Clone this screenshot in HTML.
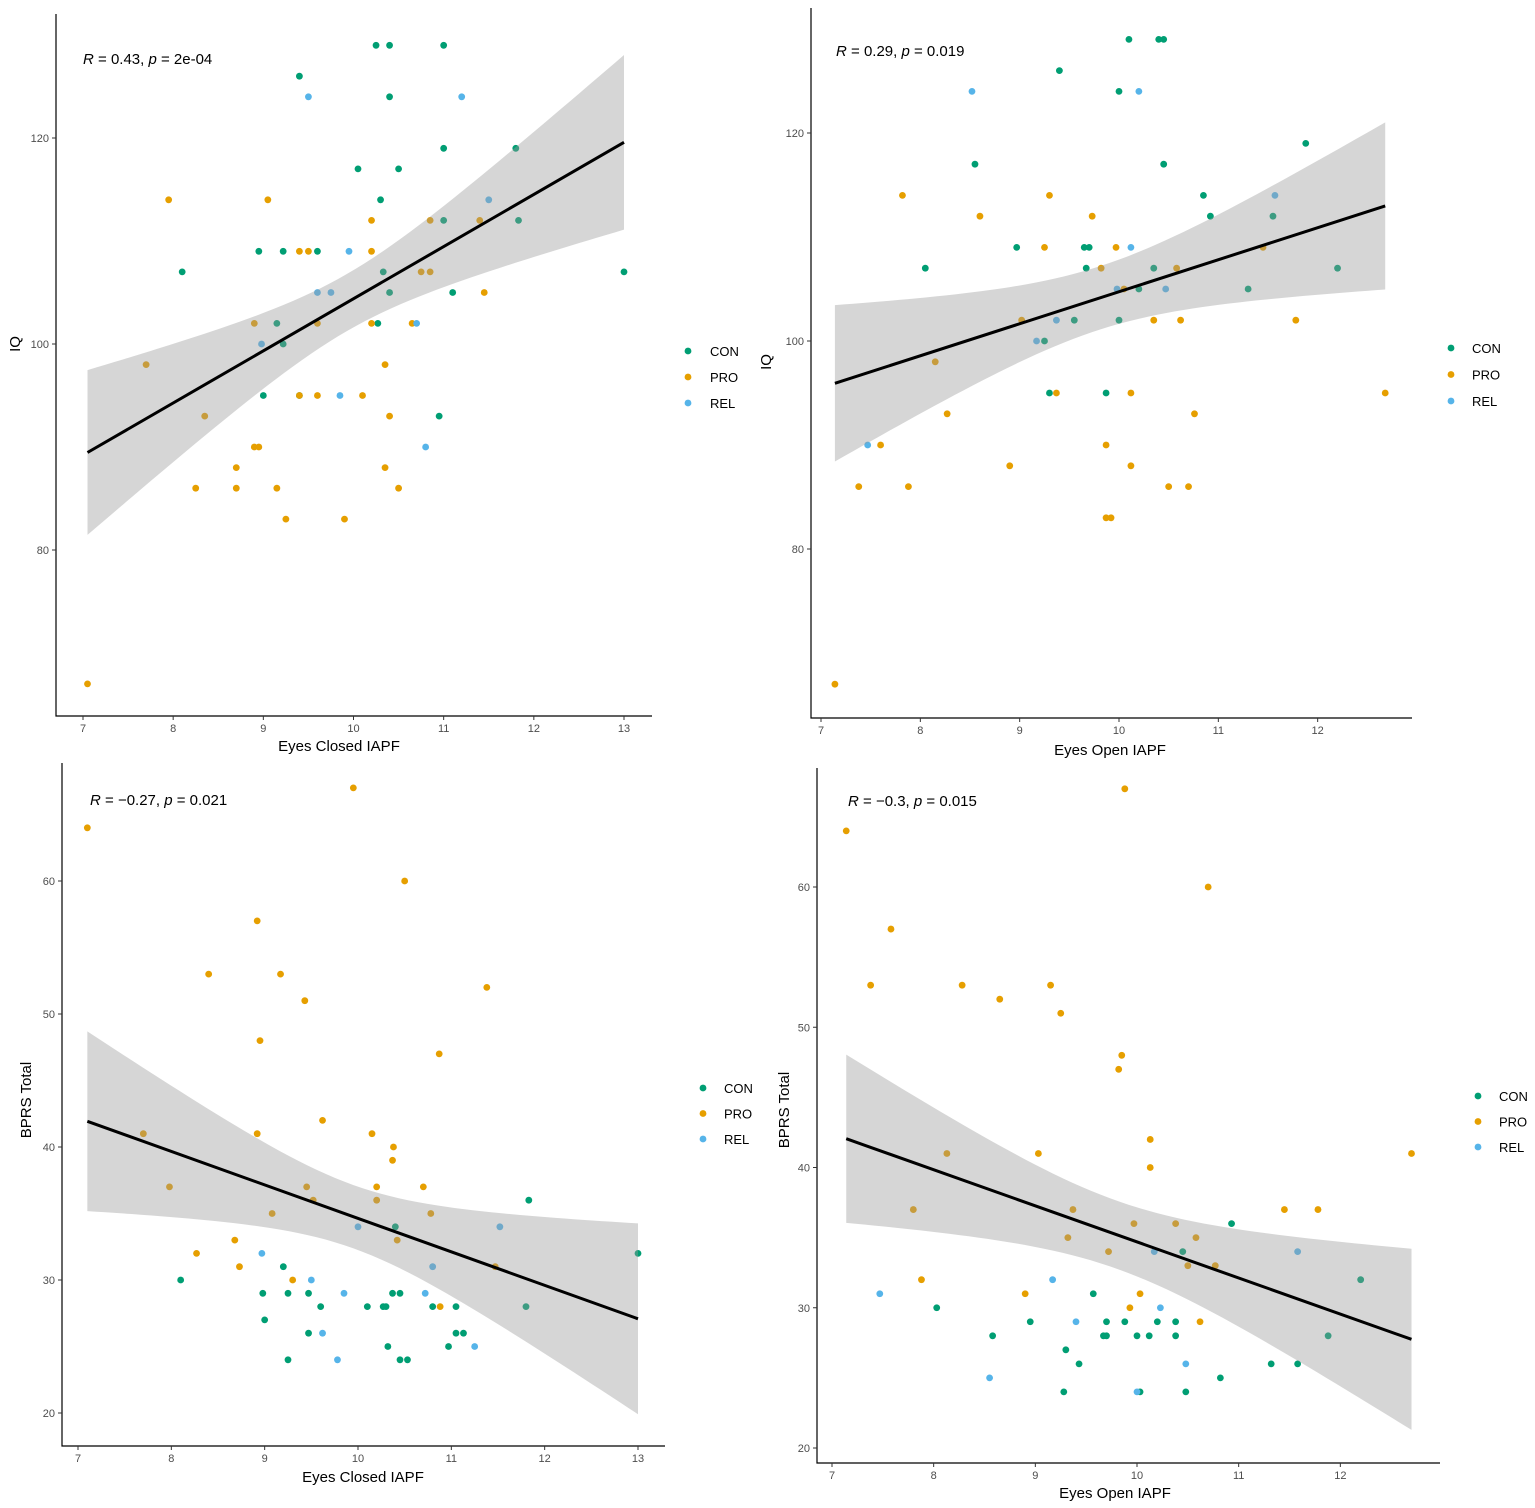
<!DOCTYPE html>
<html><head><meta charset="utf-8"><style>
body{margin:0;background:#fff;width:1535px;height:1508px;overflow:hidden}
svg{display:block}
text{font-family:"Liberation Sans",sans-serif}
</style></head><body>
<svg id="chart" width="1535" height="1508" xmlns="http://www.w3.org/2000/svg"></svg>
<script>
const groups=["CON","PRO","REL"];
const groupColors=["#009E73","#E69F00","#56B4E9"];
// Panel A: Eyes closed IAPF vs IQ
const p1CON=[[10.25,129],[10.4,129],[11,129],[9.4,126],[10.4,124],[11,119],[11.8,119],[10.05,117],[10.5,117],[10.3,114],[11.83,112],[11.0,112],[8.1,107],[8.95,109],[9.22,109],[9.6,109],[10.33,107],[10.4,105],[11.1,105],[9.15,102],[10.27,102],[9.22,100],[9.0,95],[9.4,95],[10.95,93],[13.0,107]];
const p1PRO=[[7.95,114],[9.05,114],[10.2,112],[11.4,112],[10.85,112],[9.4,109],[9.5,109],[10.2,109],[10.75,107],[10.85,107],[11.45,105],[8.9,102],[9.6,102],[10.2,102],[10.65,102],[7.7,98],[10.35,98],[8.35,93],[10.4,93],[9.4,95],[9.6,95],[10.1,95],[8.9,90],[8.95,90],[8.7,88],[10.35,88],[8.25,86],[8.7,86],[9.15,86],[10.5,86],[9.25,83],[9.9,83],[7.05,67]];
const p1REL=[[9.5,124],[11.2,124],[11.5,114],[9.95,109],[9.6,105],[9.75,105],[10.7,102],[8.98,100],[9.85,95],[10.8,90]];
// Panel B: Eyes open IAPF vs IQ
const p2CON=[[10.1,129],[10.4,129],[10.45,129],[9.4,126],[10,124],[8.55,117],[10.45,117],[11.88,119],[10.85,114],[10.92,112],[11.55,112],[8.05,107],[8.97,109],[9.65,109],[9.7,109],[9.67,107],[10.35,107],[10.2,105],[11.3,105],[12.2,107],[9.55,102],[10,102],[9.25,100],[9.3,95],[9.87,95]];
const p2PRO=[[7.82,114],[9.3,114],[8.6,112],[9.73,112],[9.25,109],[9.97,109],[11.45,109],[9.82,107],[10.58,107],[10.05,105],[9.02,102],[10.35,102],[10.62,102],[11.78,102],[8.15,98],[9.37,95],[10.12,95],[12.68,95],[8.27,93],[10.76,93],[7.6,90],[9.87,90],[8.9,88],[10.12,88],[7.38,86],[7.88,86],[10.5,86],[10.7,86],[9.87,83],[9.92,83],[7.14,67]];
const p2REL=[[8.52,124],[10.2,124],[11.57,114],[10.12,109],[9.98,105],[10.47,105],[9.37,102],[9.17,100],[7.47,90]];
// Panel C: Eyes closed IAPF vs BPRS
const p3CON=[[11.83,36],[13.0,32],[10.4,34],[8.1,30],[9.2,31],[8.98,29],[9.25,29],[9.47,29],[9.6,28],[10.1,28],[10.27,28],[10.37,29],[10.45,29],[10.8,28],[11.05,28],[9.0,27],[9.47,26],[11.05,26],[11.13,26],[10.32,25],[10.97,25],[9.25,24],[10.45,24],[10.53,24],[11.8,28],[10.3,28]];
const p3PRO=[[7.1,64],[9.95,67],[10.5,60],[8.92,57],[8.4,53],[9.17,53],[9.43,51],[11.38,52],[8.95,48],[10.87,47],[9.62,42],[8.92,41],[10.15,41],[7.7,41],[10.38,40],[10.37,39],[7.98,37],[9.45,37],[10.2,37],[10.7,37],[9.52,36],[10.2,36],[9.08,35],[10.78,35],[10.42,33],[11.47,31],[8.68,33],[8.27,32],[8.73,31],[9.3,30],[10.88,28]];
const p3REL=[[10.0,34],[11.52,34],[10.8,31],[8.97,32],[9.5,30],[9.85,29],[10.72,29],[9.62,26],[11.25,25],[9.78,24]];
// Panel D: Eyes open IAPF vs BPRS
const p4CON=[[10.93,36],[10.45,34],[12.2,32],[8.03,30],[9.57,31],[8.58,28],[8.95,29],[9.67,28],[9.7,28],[9.7,29],[9.88,29],[10,28],[10.12,28],[10.2,29],[10.38,29],[10.38,28],[9.3,27],[9.43,26],[11.32,26],[11.58,26],[10.82,25],[9.28,24],[10.03,24],[10.48,24],[11.88,28]];
const p4PRO=[[7.14,64],[9.88,67],[10.7,60],[7.58,57],[7.38,53],[8.28,53],[9.15,53],[8.65,52],[9.25,51],[9.85,48],[9.82,47],[10.13,42],[8.13,41],[9.03,41],[12.7,41],[10.13,40],[7.8,37],[9.37,37],[11.45,37],[11.78,37],[9.97,36],[10.38,36],[9.32,35],[10.58,35],[9.72,34],[10.5,33],[10.77,33],[7.88,32],[8.9,31],[10.03,31],[9.93,30],[10.62,29]];
const p4REL=[[11.58,34],[10.17,34],[7.47,31],[9.17,32],[10.23,30],[9.4,29],[8.55,25],[10.48,26],[10.0,24]];
const xTicksClosed=[7,8,9,10,11,12,13];
const xTicksOpen=[7,8,9,10,11,12];
const yTicksIQ=[80,100,120];
const yTicksBPRS=[20,30,40,50,60];
const statLabels=[["0.43","2e-04"],["0.29","0.019"],["\u22120.27","0.021"],["\u22120.3","0.015"]];

const NS="http://www.w3.org/2000/svg";
const svg=document.getElementById('chart');
function mk(tag,attrs,parent){const e=document.createElementNS(NS,tag);for(const k in attrs)e.setAttribute(k,attrs[k]);(parent||svg).appendChild(e);return e;}

const panels=[
 {id:"a",data:[p1CON,p1PRO,p1REL],xt:xTicksClosed,yt:yTicksIQ,x0:7,x1:10,px0:83,px1:353.5,y0:100,y1:120,py0:344,py1:138,axL:56,axB:716,axT:14,axR:652,xl:"Eyes Closed IAPF",xlx:339,xly:751,yl:"IQ",ylx:20,yly:344,ann:[83,64],leg:[688,710,351,26],st:0},
 {id:"b",data:[p2CON,p2PRO,p2REL],xt:xTicksOpen,yt:yTicksIQ,x0:7,x1:10,px0:821,px1:1119,y0:100,y1:120,py0:341,py1:133,axL:811,axB:718,axT:8,axR:1412,xl:"Eyes Open IAPF",xlx:1110,xly:755,yl:"IQ",ylx:771,yly:362,ann:[836,56],leg:[1451,1472,348,26.5],st:1},
 {id:"c",data:[p3CON,p3PRO,p3REL],xt:xTicksClosed,yt:yTicksBPRS,x0:7,x1:10,px0:78,px1:358,y0:20,y1:60,py0:1413,py1:881,axL:62,axB:1446,axT:763,axR:665,xl:"Eyes Closed IAPF",xlx:363,xly:1482,yl:"BPRS Total",ylx:31,yly:1100,ann:[90,805],leg:[703,724,1088,25.5],st:2},
 {id:"d",data:[p4CON,p4PRO,p4REL],xt:xTicksOpen,yt:yTicksBPRS,x0:7,x1:10,px0:832,px1:1137,y0:20,y1:60,py0:1448,py1:887,axL:817,axB:1463,axT:768,axR:1440,xl:"Eyes Open IAPF",xlx:1115,xly:1498,yl:"BPRS Total",ylx:789,yly:1110,ann:[848,806],leg:[1478,1499,1096,25.5],st:3}
];

panels.forEach(p=>{
 const g=mk('g',{});
 
 
 const sx=v=>p.px0+(v-p.x0)*(p.px1-p.px0)/(p.x1-p.x0);
 const sy=v=>p.py0+(v-p.y0)*(p.py1-p.py0)/(p.y1-p.y0);
 p.data.forEach((arr,gi)=>{
  const pg=mk('g',{},g);
  
  
  arr.forEach(d=>{
   const c=mk('circle',{cx:sx(d[0]),cy:sy(d[1]),r:3.4,fill:groupColors[gi]},pg);
   
   
  });
 });
 const all=[].concat(...p.data);const n=all.length;
 const mx=all.reduce((s,d)=>s+d[0],0)/n,my=all.reduce((s,d)=>s+d[1],0)/n;
 let sxx=0,sxy=0;all.forEach(d=>{sxx+=(d[0]-mx)**2;sxy+=(d[0]-mx)*(d[1]-my);});
 const b=sxy/sxx,a=my-b*mx;
 let sse=0;all.forEach(d=>{sse+=(d[1]-a-b*d[0])**2;});
 const s=Math.sqrt(sse/(n-2)),t=1.995;
 const xmin=Math.min(...all.map(d=>d[0])),xmax=Math.max(...all.map(d=>d[0]));
 const up=[],lo=[];
 for(let i=0;i<=60;i++){const x=xmin+(xmax-xmin)*i/60;const f=a+b*x;const h=t*s*Math.sqrt(1/n+(x-mx)**2/sxx);up.push(sx(x)+','+sy(f+h));lo.push(sx(x)+','+sy(f-h));}
 const band=mk('polygon',{points:up.concat(lo.reverse()).join(' '),fill:'#999999','fill-opacity':0.4},g);
 
 
 const ln=mk('line',{x1:sx(xmin),y1:sy(a+b*xmin),x2:sx(xmax),y2:sy(a+b*xmax),stroke:'#000','stroke-width':3},g);
 
 
 const ax=mk('path',{d:`M${p.axL},${p.axT}V${p.axB}H${p.axR}`,stroke:'#000','stroke-width':1.2,fill:'none'},g);
 
 
 p.xt.forEach(v=>{
  mk('line',{x1:sx(v),x2:sx(v),y1:p.axB,y2:p.axB+4,stroke:'#333'},g);
  const tx=mk('text',{x:sx(v),y:p.axB+16,'text-anchor':'middle','font-size':11,fill:'#4d4d4d'},g);tx.textContent=v;
  
  
 });
 p.yt.forEach(v=>{
  mk('line',{x1:p.axL-4,x2:p.axL,y1:sy(v),y2:sy(v),stroke:'#333'},g);
  const tx=mk('text',{x:p.axL-7,y:sy(v)+4,'text-anchor':'end','font-size':11,fill:'#4d4d4d'},g);tx.textContent=v;
  
  
 });
 const xl=mk('text',{x:p.xlx,y:p.xly,'text-anchor':'middle','font-size':15},g);xl.textContent=p.xl;
 
 
 const yl=mk('text',{x:p.ylx,y:p.yly,'text-anchor':'middle','font-size':15,transform:`rotate(-90 ${p.ylx} ${p.yly})`},g);yl.textContent=p.yl;
 
 
 const an=mk('text',{x:p.ann[0],y:p.ann[1],'font-size':15},g);
 an.innerHTML=`<tspan font-style="italic">R</tspan> = ${statLabels[p.st][0]}, <tspan font-style="italic">p</tspan> = ${statLabels[p.st][1]}`;
 
 
 groups.forEach((gname,gi)=>{
  const yy=p.leg[2]+gi*p.leg[3];
  const lg=mk('g',{},g);
  
  
  mk('circle',{cx:p.leg[0],cy:yy,r:3.4,fill:groupColors[gi]},lg);
  const lt=mk('text',{x:p.leg[1],y:yy+5,'font-size':13},lg);lt.textContent=gname;
 });
});
</script>
</body></html>
